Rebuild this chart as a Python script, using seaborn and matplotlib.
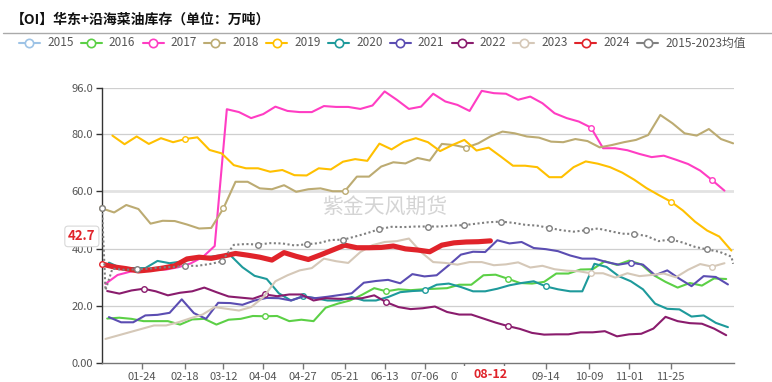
import matplotlib
matplotlib.use("Agg")
import matplotlib.pyplot as plt
import seaborn as sns
import pandas as pd
import numpy as np
from datetime import date, timedelta
from matplotlib.lines import Line2D
from matplotlib.patches import Rectangle

sns.set_style("white")
plt.rcParams['font.family'] = ['Noto Sans CJK SC', 'DejaVu Sans']
plt.rcParams['axes.unicode_minus'] = False

# ---------------- data ----------------
title = "【OI】华东+沿海菜油库存（单位：万吨）"
watermark = "紫金天风期货"
tick_dates = ["01-24", "02-18", "03-12", "04-04", "04-27", "05-21", "06-13",
              "07-06", "07-29", "08-21", "09-14", "10-09", "11-01", "11-25"]
y_ticks = [0, 20, 40, 60, 80, 96]
y_tick_labels = ["0.00", "20.0", "40.0", "60.0", "80.0", "96.0"]

series_names = ["2015", "2016", "2017", "2018", "2019", "2020", "2021",
                "2022", "2023", "2024", "2015-2023均值"]

start_2016 = "01-04"
vals_2016 = [15.6, 15.9, 15.5, 14.7, 14.7, 14.7, 13.5, 15.3, 15.5, 13.5,
             15.2, 15.5, 16.5, 16.4, 16.5, 14.7, 15.2, 14.7, 19.4, 20.8,
             21.9, 23.9, 26.2, 25.1, 25.8, 25.5, 25.8, 26.0, 26.2, 27.4,
             27.4, 30.7, 30.9, 29.5, 28.0, 27.8, 28.4, 31.3, 31.3, 32.7,
             32.8, 35.6, 34.3, 35.8, 34.5, 30.8, 28.4, 26.4, 28.0, 27.1,
             29.6, 29.4]

start_2017 = "01-03"
vals_2017 = [27.7, 30.8, 31.9, 32.7, 32.6, 32.7, 33.5, 34.8, 37.0, 40.9,
             88.6, 87.6, 85.5, 86.9, 89.5, 88.0, 87.6, 87.6, 89.7, 89.4,
             89.4, 88.7, 89.9, 94.8, 91.9, 88.7, 89.5, 94.0, 91.3, 90.1,
             88.0, 95.0, 94.2, 94.0, 91.9, 93.0, 90.7, 87.2, 85.5, 84.3,
             82.2, 75.0, 75.0, 74.3, 73.0, 71.9, 72.4, 71.0, 69.5, 67.2,
             63.8, 60.2]

start_2018 = "01-01"
vals_2018 = [54.0, 52.6, 55.2, 53.8, 48.7, 49.7, 49.6, 48.4, 47.0, 47.2,
             54.0, 63.3, 63.3, 61.0, 60.7, 62.1, 59.8, 60.7, 61.0, 60.0,
             60.0, 65.1, 65.1, 68.6, 70.1, 69.7, 71.6, 70.7, 76.5, 76.1,
             75.2, 76.7, 79.1, 80.8, 80.2, 79.1, 78.7, 77.3, 77.1, 78.2,
             77.5, 75.3, 76.1, 77.1, 77.9, 79.6, 86.6, 83.7, 80.2, 79.4,
             81.7, 78.2, 76.7]

start_2019 = "01-07"
vals_2019 = [79.4, 76.4, 79.1, 76.5, 78.5, 77.1, 78.2, 78.8, 74.4, 73.2,
             69.1, 68.0, 68.0, 66.8, 67.4, 65.6, 65.5, 68.0, 67.6, 70.3,
             71.2, 70.6, 76.6, 74.6, 77.2, 78.5, 77.1, 74.0, 76.1, 77.9,
             74.2, 75.2, 72.1, 68.9, 68.9, 68.4, 64.9, 64.9, 68.4, 70.4,
             69.6, 68.4, 66.5, 64.0, 61.1, 58.7, 56.4, 53.3, 49.4, 46.3,
             44.2, 39.3]

start_2020 = "01-05"
vals_2020 = [35.1, 33.2, 33.2, 33.2, 35.7, 34.9, 35.5, 36.3, 37.0, 37.5,
             37.7, 33.5, 30.5, 29.4, 24.4, 21.9, 23.4, 22.7, 21.9, 21.9,
             23.1, 21.9, 21.9, 23.1, 24.8, 25.2, 25.4, 27.4, 27.8, 26.6,
             25.1, 25.1, 26.0, 27.2, 28.0, 28.6, 26.8, 25.8, 25.1, 25.1,
             34.7, 33.6, 30.4, 28.6, 25.8, 20.8, 19.0, 18.8, 16.3, 16.7,
             14.1, 12.6]

start_2021 = "01-05"
vals_2021 = [16.1, 14.3, 14.3, 16.7, 16.9, 17.6, 22.3, 17.5, 15.5, 21.1,
             21.0, 20.4, 21.9, 22.8, 22.7, 21.9, 23.3, 22.7, 23.2, 23.8,
             24.4, 28.1, 28.7, 29.1, 27.9, 31.1, 30.3, 30.7, 34.2, 37.9,
             38.9, 38.8, 42.9, 41.8, 42.3, 40.2, 39.8, 39.1, 37.6, 36.5,
             36.5, 35.3, 34.4, 35.1, 34.4, 30.7, 32.4, 29.5, 26.9, 30.4,
             30.1, 27.5]

start_2022 = "01-04"
vals_2022 = [25.2, 24.3, 25.4, 26.0, 25.1, 23.7, 24.6, 25.1, 26.4, 24.8,
             23.3, 22.9, 22.5, 24.0, 23.4, 24.0, 24.0, 21.9, 22.7, 22.5,
             22.5, 22.7, 23.7, 21.3, 19.6, 18.9, 19.2, 19.8, 17.9, 17.0,
             17.0, 15.6, 14.2, 13.0, 12.0, 10.6, 10.0, 10.1, 10.1, 10.8,
             10.8, 11.2, 9.4, 10.1, 10.3, 12.1, 16.2, 14.7, 14.0, 13.8,
             12.1, 9.8]

start_2023 = "01-03"
vals_2023 = [8.5, None, None, None, 13.2, 13.2, 14.3, 15.7, 17.0, 19.6,
             19.0, 18.4, 19.6, 23.0, 28.6, 30.7, 32.4, 33.2, 36.5, 35.6,
             35.0, 38.8, 41.2, 42.3, 42.6, 43.5, 38.8, 35.3, 35.0, 34.4,
             35.3, 35.3, 34.2, 34.5, 35.2, 33.4, 34.0, 32.8, 32.3, 32.1,
             31.4, 31.4, 29.9, 31.4, 30.4, 30.8, 31.3, 30.0, 32.6, 34.6,
             33.7, 34.9]

start_2024 = "01-01"
vals_2024 = [34.6, 33.6, 33.0, 32.2, 32.6, 33.2, 34.0, 36.4, 37.0, 36.6,
             37.4, 38.3, 37.7, 37.0, 36.0, 38.6, 37.3, 36.2, 37.8, 39.5,
             41.2, 40.3, 40.3, 40.4, 40.9, 39.9, 39.5, 38.9, 41.2, 42.0,
             42.3, 42.4, 42.7]

avg_head_dates = ["01-01", "01-03"]
avg_head_vals = [54.0, 25.5]
avg_start = "01-07"
avg_vals = [33.0, 32.6, 32.8, 33.0, 33.4, 33.6, 34.0, 34.0, 34.6, 35.5,
            41.3, 41.6, 41.4, 41.9, 41.8, 41.1, 41.5, 41.9, 43.0, 43.1,
            44.2, 45.4, 46.8, 47.6, 47.5, 47.7, 47.7, 47.7, 48.0, 48.2,
            48.7, 49.2, 49.4, 49.0, 48.3, 48.0, 47.2, 46.4, 45.9, 46.4,
            47.0, 46.1, 45.2, 45.1, 44.4, 42.6, 43.2, 42.1, 40.6, 39.7,
            38.9, 37.2]
avg_tail_dates = ["12-31"]
avg_tail_vals = [34.7]

# ---------------- style ----------------
colors = {"2015": "#9DC3E6", "2016": "#5CD046", "2017": "#FF3DC3",
          "2018": "#BCAB72", "2019": "#FFC000", "2020": "#1E9A9B",
          "2021": "#5B4DB2", "2022": "#8A1C6D", "2023": "#D5C8B8",
          "2024": "#E0232A", "2015-2023均值": "#808080"}
marker_dates = {"2016": ["04-04", "06-13", "08-21"],
                "2017": ["10-09", "12-19"],
                "2018": ["01-01", "03-12", "05-21", "07-29"],
                "2019": ["02-18", "11-25"],
                "2020": ["04-27", "07-06", "09-14"],
                "2021": ["11-01"],
                "2022": ["01-24", "04-04", "06-13", "08-21"],
                "2023": ["10-09", "12-19"],
                "2024": ["01-01"],
                "2015-2023均值": ["01-01"] + tick_dates + ["12-19"]}


def day_index(mmdd, year=2023):
    m, d = map(int, mmdd.split("-"))
    return (date(year, m, d) - date(year, 1, 1)).days


weekly = {"2016": (start_2016, vals_2016), "2017": (start_2017, vals_2017),
          "2018": (start_2018, vals_2018), "2019": (start_2019, vals_2019),
          "2020": (start_2020, vals_2020), "2021": (start_2021, vals_2021),
          "2022": (start_2022, vals_2022), "2023": (start_2023, vals_2023),
          "2024": (start_2024, vals_2024)}

rows = []
for name, (st, vals) in weekly.items():
    x0 = day_index(st)
    for k, v in enumerate(vals):
        rows.append((name, x0 + 7 * k, v))
avg_name = "2015-2023均值"
for d, v in zip(avg_head_dates, avg_head_vals):
    rows.append((avg_name, day_index(d), v))
x0 = day_index(avg_start)
for k, v in enumerate(avg_vals):
    rows.append((avg_name, x0 + 7 * k, v))
for d, v in zip(avg_tail_dates, avg_tail_vals):
    rows.append((avg_name, day_index(d), v))
df = pd.DataFrame(rows, columns=["series", "x", "value"]).dropna()

# ---------------- figure ----------------
W, H = 772, 382
fig = plt.figure(figsize=(W / 100, H / 100), dpi=100)
ax = fig.add_axes([102 / W, (H - 363.3) / H, 632 / W, 275.3 / H])

for y in y_ticks[1:]:
    if y == 60:
        ax.axhline(y, color="#e2e2e2", lw=2.0, zorder=0.5)
    else:
        ax.axhline(y, color="#cfcfcf", lw=0.9, zorder=0.5)

ax.text(0.448, 0.568, watermark, transform=ax.transAxes, fontsize=15,
        color="#d4d4d4", ha="center", va="center", zorder=0.6)

plot_order = series_names[1:]
for i, name in enumerate(plot_order):
    sub = df[df["series"] == name].sort_values("x")
    c = colors[name]
    z = 2 + i
    if name == "2024":
        sns.lineplot(data=sub, x="x", y="value", ax=ax, color=c, lw=3.7,
                     estimator=None, sort=False, zorder=z,
                     solid_capstyle="round", solid_joinstyle="round")
    elif name == avg_name:
        sns.lineplot(data=sub, x="x", y="value", ax=ax, color=c, lw=1.5,
                     estimator=None, sort=False, zorder=z,
                     linestyle=(0, (1, 1.2)))
    else:
        sns.lineplot(data=sub, x="x", y="value", ax=ax, color=c, lw=1.5,
                     estimator=None, sort=False, zorder=z)
    mx, my = [], []
    xs = sub["x"].to_numpy()
    ys = sub["value"].to_numpy()
    for d in marker_dates.get(name, []):
        j = int(np.argmin(np.abs(xs - day_index(d))))
        mx.append(xs[j]); my.append(ys[j])
    ax.plot(mx, my, "o", mfc="white", mec=c, ms=4.0, mew=1.0, zorder=z + 0.5,
            clip_on=False)

ax.set_xlim(0, 364.5)
ax.set_ylim(0, 96)
ax.set_xlabel("")
ax.set_ylabel("")
ax.set_xticks([day_index(d) for d in tick_dates])
ax.set_xticklabels(tick_dates)
ax.set_yticks(y_ticks)
ax.set_yticklabels(y_tick_labels)
ax.tick_params(axis="x", bottom=True, length=4, width=1, color="#777777",
               labelsize=8, labelcolor="#555555", pad=2)
ax.tick_params(axis="y", left=True, length=4.5, width=1, color="#333333",
               labelsize=8, labelcolor="#555555", pad=2)
for s in ["top", "right"]:
    ax.spines[s].set_visible(False)
ax.spines["left"].set_color("#333333")
ax.spines["left"].set_linewidth(1)
ax.spines["bottom"].set_color("#777777")
ax.spines["bottom"].set_linewidth(1)
if ax.get_legend():
    ax.get_legend().remove()

# axis pointer labels
last_x = day_index(start_2024, 2024) + 7 * (len(vals_2024) - 1)
last_label = (date(2024, 1, 1) + timedelta(days=last_x)).strftime("%m-%d")
ax.add_patch(Rectangle((last_x - 18.5, -0.068), 36, 0.058,
                       transform=ax.get_xaxis_transform(), facecolor="white",
                       edgecolor="none", clip_on=False, zorder=20))
ax.annotate(last_label, xy=(last_x, 0), xycoords=("data", "axes fraction"),
            xytext=(0, -7.8), textcoords="offset points", ha="center",
            va="center", fontsize=9, fontweight="bold", color="#E0232A",
            annotation_clip=False, zorder=21)
ax.annotate(f"{vals_2024[-1]:.1f}", xy=(0, vals_2024[-1]),
            xycoords=("axes fraction", "data"), xytext=(-14.5, 3.2),
            textcoords="offset points", ha="center", va="center",
            fontsize=9.5, fontweight="bold", color="#E0232A",
            annotation_clip=False, zorder=21,
            bbox=dict(boxstyle="round,pad=0.25", fc="white", ec="#d8d8d8",
                      lw=0.8))

# title, separator, legend
fig.text(11 / W, 1 - 20 / H, title, fontsize=10, fontweight="bold",
         ha="left", va="center", color="#111111")
fig.add_artist(Line2D([3 / W, 1.0], [1 - 33.3 / H] * 2, color="#aaaaaa",
                      lw=1, transform=fig.transFigure))
ly = 1 - 43 / H
for i, name in enumerate(series_names):
    x0 = 19 + 61.8 * i
    c = colors[name]
    fig.add_artist(Line2D([x0 / W, (x0 + 21) / W], [ly, ly], color=c, lw=1.5,
                          transform=fig.transFigure))
    fig.add_artist(Line2D([(x0 + 10.5) / W], [ly], marker="o", ms=6.0,
                          mfc="white", mec=c, mew=1.2, color=c,
                          transform=fig.transFigure))
    fig.text((x0 + 28) / W, ly, name, fontsize=8.5, color="#555555",
             ha="left", va="center")

fig.savefig("out.png", dpi=100)
